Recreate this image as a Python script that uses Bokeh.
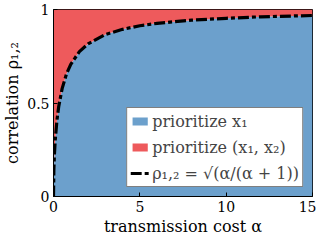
from bokeh.plotting import figure
from bokeh.models import Legend, LegendItem, FixedTicker, ColumnDataSource
from bokeh.embed import file_html
from bokeh.resources import INLINE

# data
alpha = [0, 0.02, 0.05, 0.1, 0.2, 0.3, 0.5, 0.75, 1, 1.5, 2, 3, 4, 5, 6, 8, 10, 12, 15]
rho = [0, 0.139, 0.218, 0.302, 0.408, 0.480, 0.577, 0.655, 0.707, 0.775, 0.816,
       0.866, 0.894, 0.913, 0.926, 0.943, 0.953, 0.961, 0.968]
top = [1.0] * len(alpha)
bottom = [0.0] * len(alpha)
x_ticks = [0, 5, 10, 15]
y_ticks = [0, 0.5, 1]
labels = ["prioritize x\u2081", "prioritize (x\u2081, x\u2082)",
          "\u03c1\u2081,\u2082 = \u221a(\u03b1/(\u03b1 + 1))"]
x_title = "transmission cost \u03b1"
y_title = "correlation \u03c1\u2081,\u2082"

FONT = "DejaVu Serif"
BLUE = "#6CA0CC"
RED = "#EE5A5C"

src = ColumnDataSource(dict(a=alpha, r=rho, t=top, b=bottom))

p = figure(width=316, height=238, output_backend="svg", toolbar_location=None,
           x_range=(0, 15), y_range=(0, 1),
           min_border_left=53, min_border_right=4, min_border_top=9, min_border_bottom=40)
p.xgrid.visible = False
p.ygrid.visible = False
p.outline_line_color = "black"
p.outline_line_width = 1
p.background_fill_color = "white"

rb = p.varea(x="a", y1="b", y2="r", source=src, fill_color=BLUE)
rr = p.varea(x="a", y1="r", y2="t", source=src, fill_color=RED)
rl = p.line(x="a", y="r", source=src, line_color="black", line_width=3.2, line_dash="11 3 4 3")

for ax in (p.xaxis[0], p.yaxis[0]):
    ax.major_label_text_font = FONT
    ax.major_label_text_font_size = "14px"
    ax.axis_label_text_font = FONT
    ax.axis_label_text_font_size = "16px"
    ax.axis_label_text_font_style = "normal"
    ax.major_tick_in = 4
    ax.major_tick_out = 0
    ax.minor_tick_in = 0
    ax.minor_tick_out = 0
    ax.axis_line_color = "black"
    ax.major_tick_line_color = "black"
    ax.major_label_text_color = "black"
    ax.axis_label_text_color = "black"

p.xaxis.ticker = FixedTicker(ticks=x_ticks)
p.yaxis.ticker = FixedTicker(ticks=y_ticks)
p.yaxis.major_label_overrides = {0: "0", 0.5: "0.5", 1: "1"}
p.yaxis.axis_label = y_title
p.xaxis.axis_label = x_title
p.xaxis.major_label_standoff = 4
p.xaxis.axis_label_standoff = 2
p.yaxis.major_label_standoff = 4
p.yaxis.axis_label_standoff = 2

legend = Legend(items=[LegendItem(label=labels[0], renderers=[rb]),
                       LegendItem(label=labels[1], renderers=[rr]),
                       LegendItem(label=labels[2], renderers=[rl])],
                location="bottom_right")
legend.label_text_font = FONT
legend.label_text_font_size = "16px"
legend.border_line_color = "black"
legend.border_line_width = 1
legend.background_fill_alpha = 1
legend.margin = 9
legend.padding = 3
legend.spacing = 6
legend.glyph_width = 19
legend.glyph_height = 10
legend.label_height = 20
legend.label_standoff = 3
p.add_layout(legend)

open("out.html", "w").write(file_html(p, INLINE))
